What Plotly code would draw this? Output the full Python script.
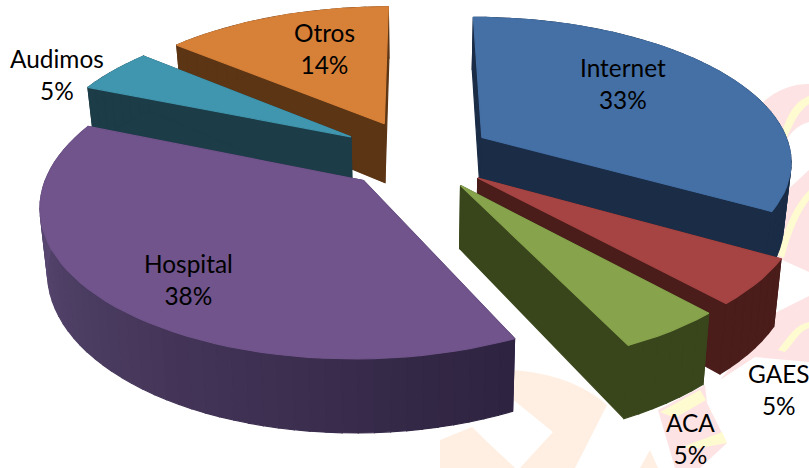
import math
import plotly.graph_objects as go

categories = ["Internet", "GAES", "ACA", "Hospital", "Audimos", "Otros"]
values = [33.3, 5.0, 4.6, 38.3, 4.9, 13.9]
percent_labels = ["33%", "5%", "5%", "38%", "5%", "14%"]
explode = [0.25, 0.25, 0.25, 0.24, 0.25, 0.25]
top_colors = ["#4470a6", "#a54443", "#87a34c", "#70548b", "#4096ae", "#d78038"]
wall_colors = ["#1a2c46", "#4a1c1a", "#39461c", "#3a2c52", "#1c3c48", "#5c3515"]
label_x = [623, 779, 690, 188, 57, 324]
label_y = [83, 389, 438, 279, 74, 48]
draw_order = ["Otros", "Audimos", "Hospital", "Internet", "GAES", "ACA"]

CX, CY, R, RK, P, H, LEAN = 416, 155, 310, 143, 0.15, 61, 0.02


def project(x, y, z=0.0):
    s = 1 / (1 - P * y)
    return CX + R * x * s * (1 - LEAN * z), CY + RK * y * s + H * z * s


def arc(a0, a1, ox, oy, z, n):
    pts = []
    for i in range(n + 1):
        t = math.radians(a0 + (a1 - a0) * i / n)
        pts.append(project(ox + math.sin(t), oy - math.cos(t), z))
    return pts


def poly(pts, color):
    xs = [p[0] for p in pts] + [pts[0][0]]
    ys = [p[1] for p in pts] + [pts[0][1]]
    return go.Scatter(x=xs, y=ys, mode="lines", fill="toself", fillcolor=color,
                      line=dict(color=color, width=1.2), hoverinfo="skip", showlegend=False)


def mix(c0, c1, t):
    a = [int(c0[i:i + 2], 16) for i in (1, 3, 5)]
    b = [int(c1[i:i + 2], 16) for i in (1, 3, 5)]
    return "rgb(%d,%d,%d)" % tuple(round(a[i] + (b[i] - a[i]) * t) for i in range(3))


total = sum(values)
angles = {}
start = 0.0
for name, v in zip(categories, values):
    angles[name] = (start, start + 360.0 * v / total)
    start += 360.0 * v / total

fig = go.Figure()
for name in draw_order:
    i = categories.index(name)
    a0, a1 = angles[name]
    mid = math.radians((a0 + a1) / 2)
    ox, oy = explode[i] * math.sin(mid), -explode[i] * math.cos(mid)
    wall = wall_colors[i]
    n = max(4, int((a1 - a0) / 2.5))
    top = arc(a0, a1, ox, oy, 0, n)
    bottom = arc(a0, a1, ox, oy, 1, n)
    apex_t, apex_b = project(ox, oy, 0), project(ox, oy, 1)
    fig.add_trace(poly([apex_t, top[0], bottom[0], apex_b], wall))
    fig.add_trace(poly([apex_t, top[-1], bottom[-1], apex_b], wall))
    for k in range(n):
        if name == "Hospital":
            # shaded front wall: light at the left, dark at the right
            col = mix("#2e2340", "#63507c", k / (n - 1))
        else:
            col = wall
        fig.add_trace(poly([top[k], top[k + 1], bottom[k + 1], bottom[k]], col))
    fig.add_trace(poly([apex_t] + top, top_colors[i]))

annotations = []
for name, pct, x, y in zip(categories, percent_labels, label_x, label_y):
    annotations.append(dict(x=x, y=y, xref="x", yref="y", text=f"{name}<br>{pct}", showarrow=False,
                            font=dict(family="Lato, Carlito, sans-serif", size=24.4, color="#000000"),
                            align="center", xanchor="center", yanchor="middle"))

PINK, YELLOW, PEACH = "#fde3e3", "#fffbd0", "#ffefe2"
watermark = [
    ("M 762 103 C 778 88 795 84 809 84 L 809 122 C 797 125 787 135 782 150 Z", PINK),
    ("M 782 132 C 788 112 797 100 809 96 L 809 104 C 800 110 793 122 786 140 Z", YELLOW),
    ("M 782 195 L 809 170 L 809 272 L 778 258 Z", PINK),
    ("M 778 255 C 785 225 795 205 809 190 L 809 200 C 798 215 790 235 784 258 Z", YELLOW),
    ("M 775 313 L 809 296 L 809 362 L 755 357 L 720 380 Z", PINK),
    ("M 778 350 C 790 335 795 325 809 322 L 809 328 C 798 332 795 342 785 352 Z", YELLOW),
    ("M 658 410 L 705 385 L 707 403 L 727 443 L 700 468 L 675 468 Z", PINK),
    ("M 660 412 L 700 390 L 706 400 L 675 418 Z", YELLOW),
    ("M 680 448 C 700 440 715 435 722 432 L 727 443 L 700 448 Z", YELLOW),
    ("M 511 370 C 550 372 585 385 607 405 L 575 468 L 520 468 L 553 432 L 511 398 Z", PEACH),
    ("M 440 468 L 440 440 L 472 427 C 490 445 505 458 515 468 Z", PEACH),
    ("M 640 468 L 650 450 L 658 468 Z", PEACH),
]
shapes = [dict(type="path", path=p, fillcolor=c, line=dict(width=0), layer="below", xref="x", yref="y")
          for p, c in watermark]

fig.update_layout(
    width=809, height=468, margin=dict(l=0, r=0, t=0, b=0),
    paper_bgcolor="white", plot_bgcolor="white", showlegend=False,
    xaxis=dict(range=[0, 809], visible=False, fixedrange=True),
    yaxis=dict(range=[468, 0], visible=False, fixedrange=True),
    annotations=annotations, shapes=shapes,
)
fig.write_html("out.html", config={"displayModeBar": False},
               post_script="document.body.style.margin='0';document.documentElement.style.overflow='hidden';")
